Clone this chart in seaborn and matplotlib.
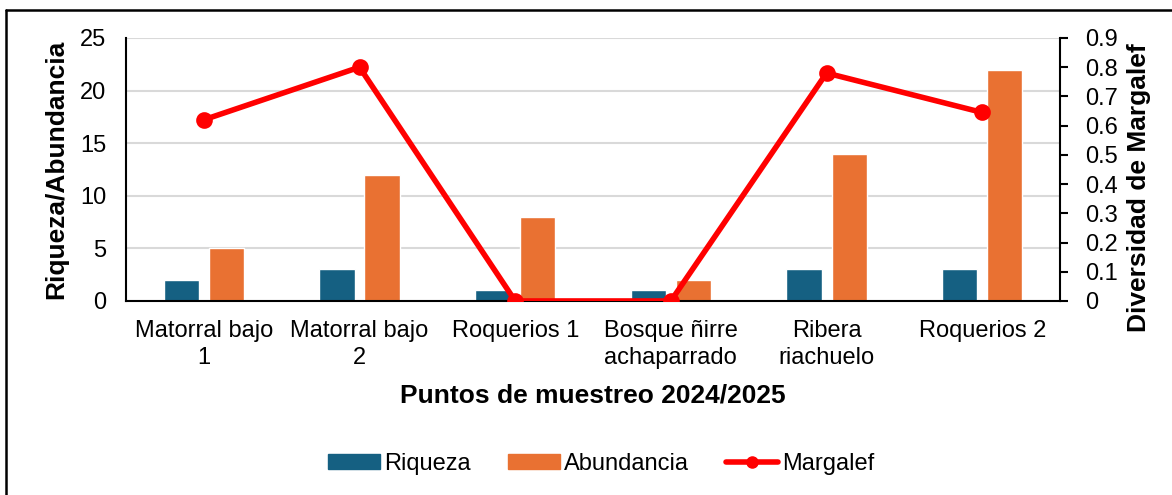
import matplotlib
matplotlib.use("Agg")
import matplotlib.pyplot as plt
import seaborn as sns
import pandas as pd
from matplotlib.lines import Line2D
from matplotlib.ticker import FuncFormatter, MultipleLocator

puntos = ["Matorral bajo\n1", "Matorral bajo\n2", "Roquerios 1",
          "Bosque ñirre\nachaparrado", "Ribera\nriachuelo", "Roquerios 2"]
riqueza = [2, 3, 1, 1, 3, 3]
abundancia = [5, 12, 8, 2, 14, 22]
margalef = [0.62, 0.80, 0.0, 0.0, 0.78, 0.645]

c_riq = "#156082"
c_abu = "#E97132"
c_mar = "#FF0000"

sns.set_theme(style="white")
plt.rcParams["font.family"] = ["Liberation Sans", "DejaVu Sans"]
plt.rcParams["text.color"] = "black"

df_bars = pd.DataFrame({
    "punto": puntos * 2,
    "valor": riqueza + abundancia,
    "serie": ["Riqueza"] * len(puntos) + ["Abundancia"] * len(puntos),
})
df_line = pd.DataFrame({"punto": puntos, "margalef": margalef})

fig = plt.figure(figsize=(11.72, 4.95), dpi=100)
ax = fig.add_axes([0.1075, 0.392, 0.797, 0.5313])

sns.barplot(data=df_bars, x="punto", y="valor", hue="serie", order=puntos,
            hue_order=["Riqueza", "Abundancia"],
            palette=[c_riq, c_abu], width=0.58, gap=0.22, ax=ax,
            saturation=1, legend=False)
ax.set_ylim(0, 25)
ax.yaxis.set_major_locator(MultipleLocator(5))
ax.grid(axis="y", color="#d9d9d9", linewidth=1.5)
ax.set_axisbelow(True)
for s in ["top", "right"]:
    ax.spines[s].set_visible(False)
for s in ["left", "bottom"]:
    ax.spines[s].set_color("black")
    ax.spines[s].set_linewidth(1.5)
ax.tick_params(axis="y", length=0, pad=14, labelsize=17, labelcolor="black")
ax.tick_params(axis="x", length=0, pad=14, labelsize=17, labelcolor="black")
ax.set_ylabel("Riqueza/Abundancia", fontsize=19, fontweight="bold", labelpad=9, color="black")
ax.set_xlabel("Puntos de muestreo 2024/2025", fontsize=19, fontweight="bold", labelpad=11, color="black")
for t in ax.get_xticklabels():
    t.set_linespacing(1.25)

ax2 = ax.twinx()
sns.pointplot(data=df_line, x="punto", y="margalef", order=puntos, color=c_mar,
              markers="o", linestyles="-", errorbar=None, ax=ax2,
              markersize=9, linewidth=4)
ax2.set_ylim(0, 0.9)
ax2.yaxis.set_major_locator(MultipleLocator(0.1))
ax2.yaxis.set_major_formatter(FuncFormatter(lambda v, p: f"{v:.1f}".rstrip("0").rstrip(".") if v != 0 else "0"))
ax2.set_xlim(-0.5, len(puntos) - 0.5)
ax.set_xlim(-0.5, len(puntos) - 0.5)
for s in ["top", "left", "bottom"]:
    ax2.spines[s].set_visible(False)
ax2.spines["right"].set_color("black")
ax2.spines["right"].set_linewidth(1.5)
ax2.tick_params(axis="y", direction="out", length=6, width=1.5, color="black",
                pad=12, labelsize=17, labelcolor="black", right=True)
ax2.set_ylabel("Diversidad de Margalef", fontsize=19, fontweight="bold", color="black")
ax2.yaxis.set_label_coords(1.072, 0.43)
ax2.grid(False)

handles = [
    plt.Rectangle((0, 0), 1, 1, color=c_riq),
    plt.Rectangle((0, 0), 1, 1, color=c_abu),
    Line2D([0], [0], color=c_mar, linewidth=4, marker="o", markersize=8),
]
leg = fig.legend(handles, ["Riqueza", "Abundancia", "Margalef"], loc="center",
                 bbox_to_anchor=(0.513, 0.0626), ncol=3, frameon=False, fontsize=17,
                 handlelength=2.2, handleheight=0.6, handletextpad=0.15, columnspacing=1.6)
for t in leg.get_texts():
    t.set_color("black")

fig.add_artist(Line2D([6 / 1172, 6 / 1172], [0, 1 - 10 / 495], transform=fig.transFigure,
                      color="black", linewidth=1.8))
fig.add_artist(Line2D([6 / 1172, 1], [1 - 10 / 495, 1 - 10 / 495], transform=fig.transFigure,
                      color="black", linewidth=1.8))

fig.savefig("out.png", dpi=100)
